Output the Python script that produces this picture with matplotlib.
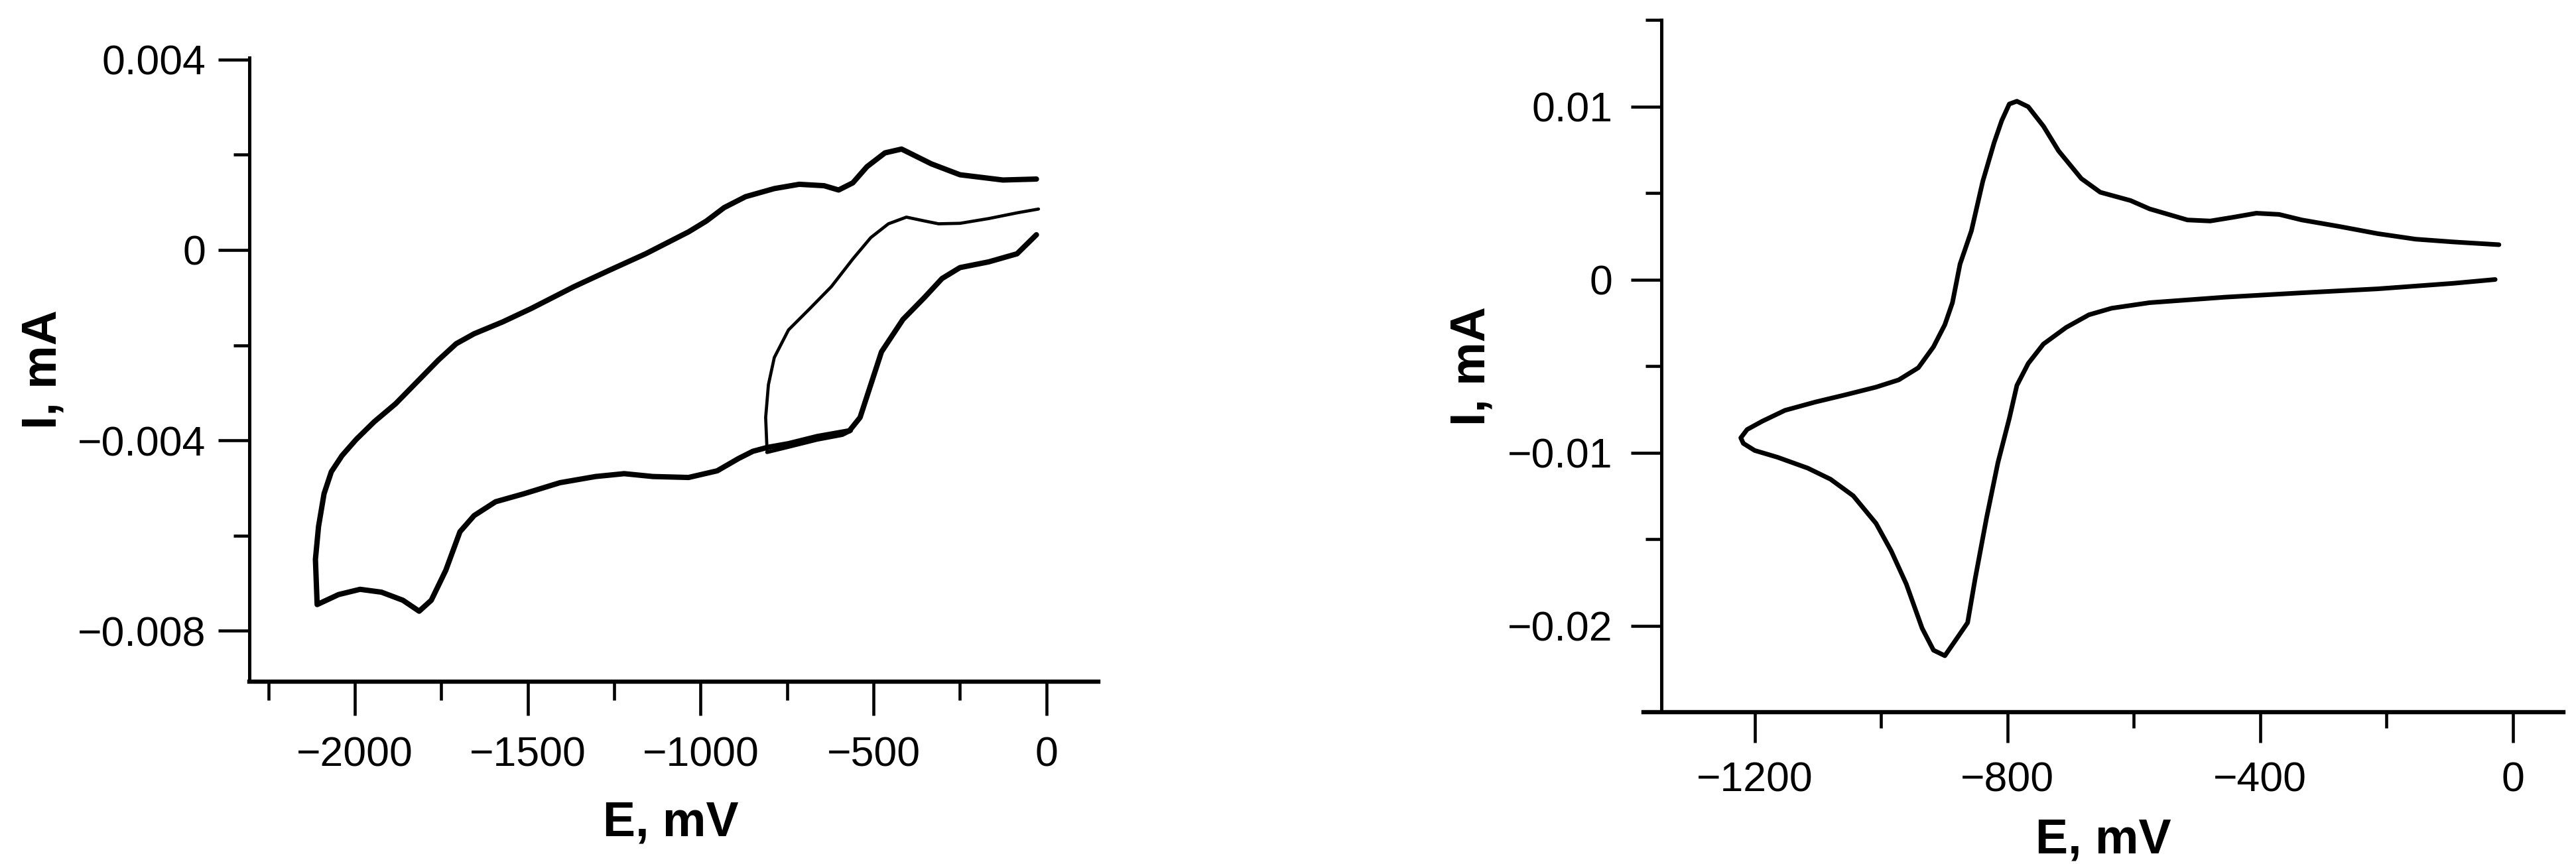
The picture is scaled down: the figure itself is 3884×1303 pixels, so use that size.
import matplotlib
matplotlib.use("Agg")
import matplotlib.pyplot as plt
from matplotlib.ticker import FixedLocator

plt.rcParams['font.family'] = ['Liberation Sans', 'DejaVu Sans']

# left panel: outer loop (thick), E in mV, I in mA
e_loop = [-29, -126, -250, -333, -405, -419, -467, -519, -560, -601, -643, -715,
          -787, -870, -932, -983, -1035, -1097, -1159, -1262, -1366, -1490, -1572,
          -1655, -1707, -1758, -1820, -1882, -1944, -1996, -2037, -2068, -2089,
          -2105, -2114, -2109,
          -2047, -1985, -1923, -1861, -1814, -1779, -1737, -1696, -1655, -1593,
          -1510, -1407, -1304, -1221, -1138, -1035, -952, -890, -849, -808, -746,
          -663, -570, -539, -508, -477, -415, -353, -302, -250, -167, -85, -29]
i_loop = [0.00149, 0.00147, 0.00158, 0.00181, 0.00207, 0.00212, 0.00204, 0.00175,
          0.00141, 0.00126, 0.00135, 0.00138, 0.00129, 0.00112, 0.00089, 0.00061,
          0.00038, 0.00015, -0.00008, -0.00042, -0.00077, -0.00123, -0.00151,
          -0.00176, -0.00197, -0.00231, -0.00277, -0.00323, -0.00361, -0.00398,
          -0.00432, -0.00466, -0.00512, -0.00581, -0.00650, -0.00745,
          -0.00724, -0.00713, -0.00719, -0.00736, -0.00759, -0.00736, -0.00673,
          -0.00592, -0.00558, -0.00529, -0.00512, -0.00489, -0.00476, -0.00470,
          -0.00476, -0.00478, -0.00464, -0.00438, -0.00423, -0.00415, -0.00407,
          -0.00392, -0.00380, -0.00352, -0.00283, -0.00214, -0.00146, -0.00100,
          -0.00060, -0.00037, -0.00025, -0.00008, 0.00032]

# left panel: first scan to -800 mV, lying just under the loop
e_first = [-808, -746, -663, -590, -565]
i_first = [-0.00425, -0.00414, -0.00399, -0.00389, -0.00380]

# left panel: thin return scan from -800 mV
e_thin = [-808, -812, -804, -787, -746, -684, -622, -560, -508, -457, -405,
          -353, -312, -250, -167, -85, -23]
i_thin = [-0.00421, -0.00352, -0.00283, -0.00226, -0.00168, -0.00123, -0.00077,
          -0.00019, 0.00026, 0.00055, 0.00069, 0.00061, 0.00055, 0.00056,
          0.00066, 0.00078, 0.00086]

# right panel
e_cv = [-28, -94, -214, -334, -455, -575, -635, -671, -707, -743, -767, -785,
        -797, -815, -833, -851, -863, -881, -899, -917, -935, -960, -984, -1008,
        -1044, -1080, -1116, -1164, -1200, -1218, -1222, -1212, -1188, -1152,
        -1104, -1056, -1008, -972, -941, -917, -899, -887, -875, -857, -839,
        -821, -809, -797, -785, -767, -743, -719, -683, -653, -605, -575, -515,
        -479, -442, -406, -370, -334, -274, -214, -154, -94, -22]
i_cv = [0.0, -0.00022, -0.00054, -0.00077, -0.00102, -0.00134, -0.00166, -0.00204,
        -0.00277, -0.00373, -0.00485, -0.00612, -0.00803, -0.01058, -0.01377,
        -0.01728, -0.01983, -0.02079, -0.02174, -0.02142, -0.02015, -0.01760,
        -0.01568, -0.01409, -0.01250, -0.01154, -0.01090, -0.01027, -0.00988,
        -0.00947, -0.00915, -0.00867, -0.00819, -0.00756, -0.00708, -0.00666,
        -0.00622, -0.00580, -0.00510, -0.00389, -0.00261, -0.00134, 0.00089,
        0.00281, 0.00567, 0.00791, 0.00918, 0.01014, 0.01030, 0.00998, 0.00886,
        0.00743, 0.00583, 0.00504, 0.00456, 0.00408, 0.00344, 0.00338, 0.00360,
        0.00383, 0.00376, 0.00344, 0.00306, 0.00265, 0.00233, 0.00217, 0.00201]

left_xticks = [-2000, -1500, -1000, -500, 0]
left_xlabels = ["−2000", "−1500", "−1000", "−500", "0"]
left_xminor = [-2250, -1750, -1250, -750, -250]
left_yticks = [0.004, 0, -0.004, -0.008]
left_ylabels = ["0.004", "0", "−0.004", "−0.008"]
left_yminor = [0.002, -0.002, -0.006]

right_xticks = [-1200, -800, -400, 0]
right_xlabels = ["−1200", "−800", "−400", "0"]
right_xminor = [-1000, -600, -200]
right_yticks = [0.01, 0, -0.01, -0.02]
right_ylabels = ["0.01", "0", "−0.01", "−0.02"]
right_yminor = [0.015, 0.005, -0.005, -0.015]

W, H = 3884, 1303
fig = plt.figure(figsize=(W / 100, H / 100), dpi=100)

ax1 = fig.add_axes([376 / W, 1 - 1028 / H, 1280 / W, 941 / H])
ax2 = fig.add_axes([2478 / W, 1 - 1074 / H, 1387 / W, 1044 / H])

style = dict(color="black", solid_joinstyle="round", solid_capstyle="round")
ax1.plot(e_loop, i_loop, lw=5.8, **style)
ax1.plot(e_first, i_first, lw=4.0, **style)
ax1.plot(e_thin, i_thin, lw=3.4, **style)
ax2.plot(e_cv, i_cv, lw=5.0, **style)

ax1.set_xlim(-2305, 150)
ax1.set_ylim(-0.00907, 0.00404)
ax2.set_xlim(-1376, 80)
ax2.set_ylim(-0.025, 0.015)
ax2.spines["left"].set_position(("data", -1348))

setups = [
    (ax1, left_xticks, left_xlabels, left_xminor, left_yticks, left_ylabels, left_yminor),
    (ax2, right_xticks, right_xlabels, right_xminor, right_yticks, right_ylabels, right_yminor),
]
for ax, xt, xl, xm, yt, yl, ym in setups:
    for s in ["top", "right"]:
        ax.spines[s].set_visible(False)
    ax.spines["left"].set_linewidth(3.6)
    ax.spines["bottom"].set_linewidth(4.6)
    ax.set_xticks(xt)
    ax.set_xticklabels(xl)
    ax.xaxis.set_minor_locator(FixedLocator(xm))
    ax.set_yticks(yt)
    ax.set_yticklabels(yl)
    ax.yaxis.set_minor_locator(FixedLocator(ym))
    ax.tick_params(which="both", direction="out", width=3.3, labelsize=45)
    ax.set_xlabel("E, mV", fontsize=53, fontweight="bold", va="top")
    ax.set_ylabel("I, mA", fontsize=53, fontweight="bold", va="center")

ax1.tick_params(axis="x", which="major", length=37, pad=22)
ax1.tick_params(axis="x", which="minor", length=20)
ax1.tick_params(axis="y", which="major", length=34, pad=13)
ax1.tick_params(axis="y", which="minor", length=17)
ax2.tick_params(axis="x", which="major", length=33, pad=20)
ax2.tick_params(axis="x", which="minor", length=17)
ax2.tick_params(axis="y", which="major", length=33, pad=20)
ax2.tick_params(axis="y", which="minor", length=17)

ax1.xaxis.set_label_coords(0.496, -0.19)
ax1.yaxis.set_label_coords(-0.243, 0.5)
ax2.xaxis.set_label_coords(0.5, -0.152)
ax2.yaxis.set_label_coords(-0.187, 0.5)

fig.savefig("out.png", dpi=100, facecolor="white")
